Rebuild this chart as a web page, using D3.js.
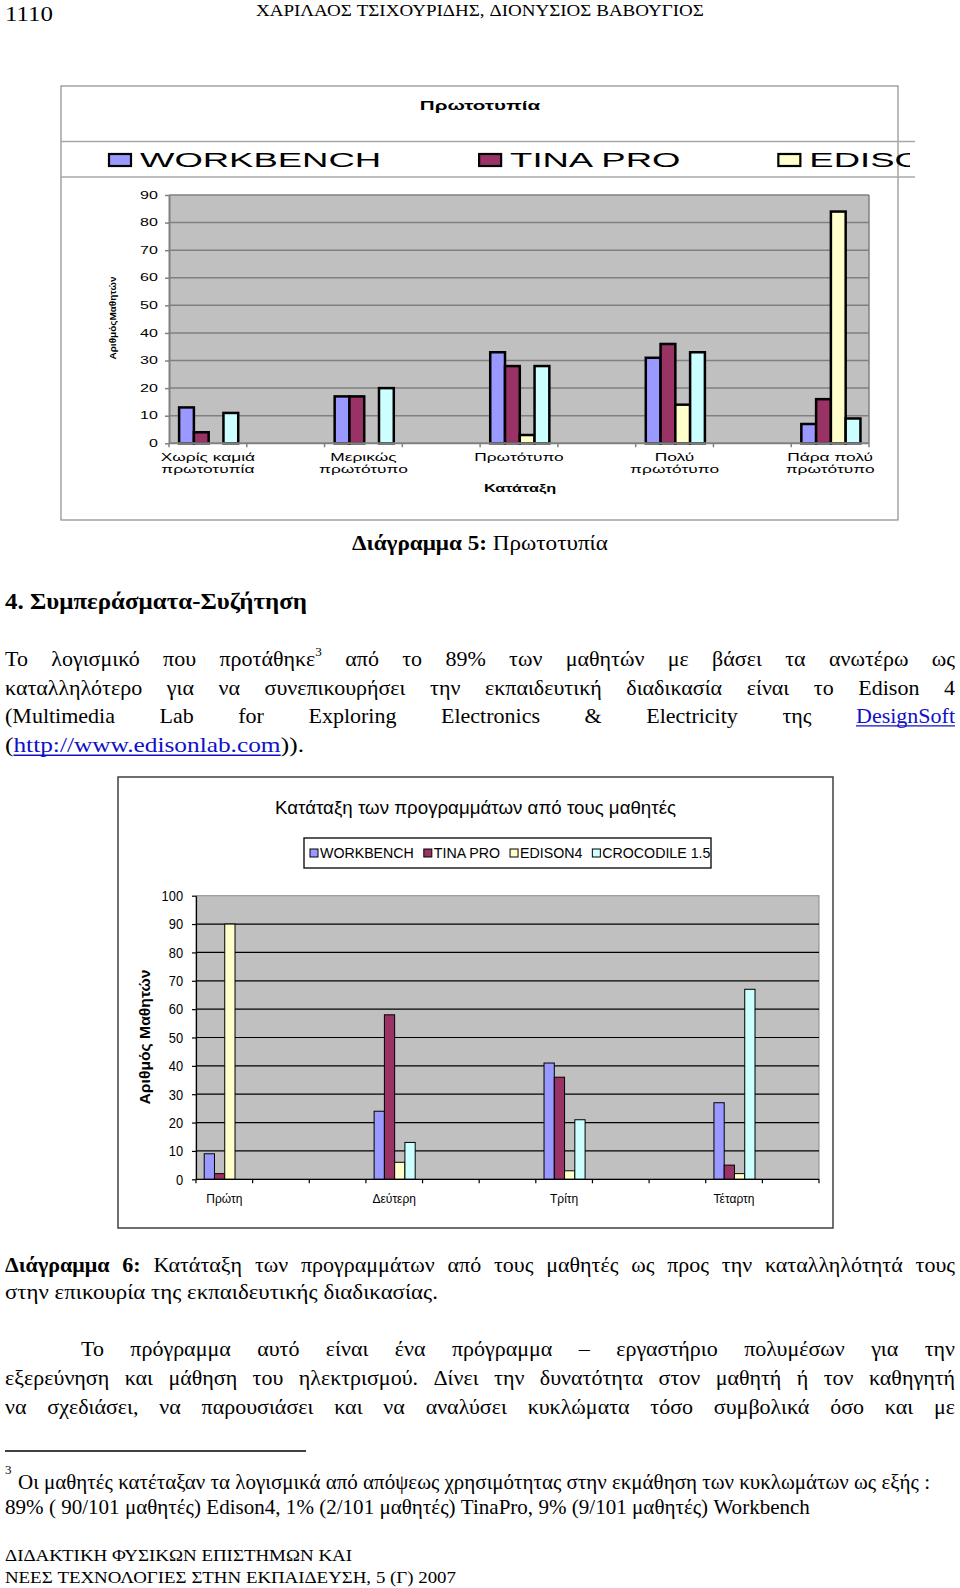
<!DOCTYPE html>
<html><head><meta charset="utf-8">
<script src="https://cdn.jsdelivr.net/npm/d3@7"></script>
<style>body{margin:0;background:#fff}svg{display:block}</style>
</head><body>
<svg id="page" width="960" height="1588"></svg>
<script>
// ---------- DATA ----------
const series = ["WORKBENCH", "TINA PRO", "EDISON4", "CROCODILE 1.5"];
const seriesColors = ["#9999ff", "#993366", "#ffffcc", "#ccffff"];

// Chart 1 (Πρωτοτυπία)
const c1Title = "Πρωτοτυπία";
const c1Categories = [["Χωρίς καμιά", "πρωτοτυπία"], ["Μερικώς", "πρωτότυπο"], ["Πρωτότυπο"], ["Πολύ", "πρωτότυπο"], ["Πάρα πολύ", "πρωτότυπο"]];
const c1Workbench = [13, 17, 33, 31, 7];
const c1Tina = [4, 17, 28, 36, 16];
const c1Edison = [0, 0, 3, 14, 84];
const c1Croc = [11, 20, 28, 33, 9];
const c1Ticks = [0, 10, 20, 30, 40, 50, 60, 70, 80, 90];
const c1XTitle = "Κατάταξη";
const c1YTitle = "ΑριθμόςΜαθητών";

// Chart 2 (Κατάταξη των προγραμμάτων)
const c2Title = "Κατάταξη των προγραμμάτων από τους μαθητές";
const c2Categories = ["Πρώτη", "Δεύτερη", "Τρίτη", "Τέταρτη"];
const c2Workbench = [9, 24, 41, 27];
const c2Tina = [2, 58, 36, 5];
const c2Edison = [90, 6, 3, 2];
const c2Croc = [0, 13, 21, 67];
const c2Ticks = [0, 10, 20, 30, 40, 50, 60, 70, 80, 90, 100];
const c2YTitle = "Αριθμός Μαθητών";

// ---------- SETUP ----------
const SERIF = "'Liberation Serif','Times New Roman',serif";
const SANS = "'Liberation Sans',Arial,Helvetica,sans-serif";
const svg = d3.select("#page");
svg.append("rect").attr("width", 960).attr("height", 1588).attr("fill", "#fff");

// ---------- TEXT HELPERS ----------
function parseWord(w) {
  return w.split(/(\*[^*]+\*|_[^_]+_|\^\d+)/).filter(s => s.length).map(p => {
    if (p[0] === "*") return { t: p.slice(1, -1), bold: true };
    if (p[0] === "_") return { t: p.slice(1, -1), link: true };
    if (p[0] === "^") return { t: p.slice(1), sup: true };
    return { t: p };
  });
}
function buildWord(g, w, size) {
  let x = 0;
  const wg = g.append("g");
  parseWord(w).forEach(s => {
    const t = wg.append("text").attr("x", x).attr("y", s.sup ? -size * 0.42 : 0)
      .style("font-family", SERIF).style("font-size", (s.sup ? size * 0.6 : size) + "px")
      .style("font-weight", s.bold ? "bold" : "normal")
      .attr("fill", s.link ? "#1010c8" : "#000").text(s.t);
    const ww = t.node().getComputedTextLength();
    if (s.link) wg.append("line").attr("x1", x).attr("x2", x + ww).attr("y1", size * 0.13).attr("y2", size * 0.13)
      .attr("stroke", "#1010c8").attr("stroke-width", 1.3);
    x += ww;
  });
  return { g: wg, w: x };
}
function textLine(str, x0, y, size, mode, x1) {
  const lg = svg.append("g").attr("transform", `translate(${x0},${y})`);
  const words = str.split(" ").map(w => buildWord(lg, w, size));
  if (mode === "justify") {
    const sum = d3.sum(words, d => d.w);
    const gap = (x1 - x0 - sum) / (words.length - 1);
    let x = 0;
    words.forEach(d => { d.g.attr("transform", `translate(${x},0)`); x += d.w + gap; });
  } else {
    const sp = size * 0.25;
    let x = 0;
    words.forEach(d => { d.g.attr("transform", `translate(${x},0)`); x += d.w + sp; });
    const total = x - sp;
    if (x1) lg.attr("transform", `translate(${x0},${y}) scale(${(x1 - x0) / total},1)`);
  }
}
function stext(parent, x, y, str, size, k, opts = {}) {
  return parent.append("text").attr("transform", `translate(${x},${y}) scale(${k},1)`)
    .attr("text-anchor", opts.anchor || "start").style("font-family", SANS)
    .style("font-size", size + "px").style("font-weight", opts.bold ? "bold" : "normal")
    .attr("fill", "#000").text(str);
}

// ---------- PAGE TEXT ----------
textLine("1110", 5, 21, 22, "fit", 53);
textLine("ΧΑΡΙΛΑΟΣ ΤΣΙΧΟΥΡΙΔΗΣ, ΔΙΟΝΥΣΙΟΣ ΒΑΒΟΥΓΙΟΣ", 256, 15.5, 17, "fit", 704);
textLine("*Διάγραμμα* *5:* Πρωτοτυπία", 352, 550, 22, "fit", 608);
textLine("*4.* *Συμπεράσματα-Συζήτηση*", 5, 608.5, 23, "fit", 307);
textLine("Το λογισμικό που προτάθηκε^3 από το 89% των μαθητών με βάσει τα ανωτέρω ως", 5, 665.5, 22, "justify", 955);
textLine("καταλληλότερο για να συνεπικουρήσει την εκπαιδευτική διαδικασία είναι το Edison 4", 5, 694.5, 22, "justify", 955);
textLine("(Multimedia Lab for Exploring Electronics & Electricity της _DesignSoft_", 5, 723, 22, "justify", 955);
textLine("(_http://www.edisonlab.com_)).", 5, 752.4, 22, "fit", 304);
textLine("*Διάγραμμα* *6:* Κατάταξη των προγραμμάτων από τους μαθητές ως προς την καταλληλότητά τους", 5, 1272, 22, "justify", 955);
textLine("στην επικουρία της εκπαιδευτικής διαδικασίας.", 5, 1299, 22, "fit", 438);
textLine("Το πρόγραμμα αυτό είναι ένα πρόγραμμα – εργαστήριο πολυμέσων για την", 81, 1356, 22, "justify", 955);
textLine("εξερεύνηση και μάθηση του ηλεκτρισμού. Δίνει την δυνατότητα στον μαθητή ή τον καθηγητή", 5, 1385, 22, "justify", 955);
textLine("να σχεδιάσει, να παρουσιάσει και να αναλύσει κυκλώματα τόσο συμβολικά όσο και με", 5, 1414, 22, "justify", 955);
svg.append("line").attr("x1", 5).attr("x2", 306).attr("y1", 1451).attr("y2", 1451).attr("stroke", "#000").attr("stroke-width", 1.5);
textLine("3", 5, 1474, 13);
textLine("Οι μαθητές κατέταξαν τα λογισμικά από απόψεως χρησιμότητας στην εκμάθηση των κυκλωμάτων ως εξής :", 18, 1488.5, 20, "fit", 930);
textLine("89% ( 90/101 μαθητές) Edison4, 1% (2/101 μαθητές) TinaPro, 9% (9/101 μαθητές) Workbench", 5, 1514, 20, "fit", 810);
textLine("ΔΙΔΑΚΤΙΚΗ ΦΥΣΙΚΩΝ ΕΠΙΣΤΗΜΩΝ ΚΑΙ", 5, 1560.5, 17, "fit", 352);
textLine("ΝΕΕΣ ΤΕΧΝΟΛΟΓΙΕΣ ΣΤΗΝ ΕΚΠΑΙΔΕΥΣΗ, 5 (Γ) 2007", 5, 1583, 17, "fit", 456);

// ---------- CHART 1 ----------
(function () {
  const values = [c1Workbench, c1Tina, c1Edison, c1Croc];
  const c1 = svg.append("g");
  c1.append("rect").attr("x", 61).attr("y", 86).attr("width", 837).attr("height", 434)
    .attr("fill", "#fff").attr("stroke", "#8c8c8c").attr("stroke-width", 1.2);
  stext(c1, 480, 109.5, c1Title, 12.5, 1.65, { anchor: "middle", bold: true });
  [141.5, 177].forEach(yy => c1.append("line").attr("x1", 61).attr("x2", 915).attr("y1", yy).attr("y2", yy)
    .attr("stroke", "#a8a8a8").attr("stroke-width", 1.5));
  svg.append("clipPath").attr("id", "leg1clip").append("rect").attr("x", 61).attr("y", 142).attr("width", 849).attr("height", 34);
  const lg = c1.append("g").attr("clip-path", "url(#leg1clip)");
  let lx = 109;
  series.forEach((s, i) => {
    lg.append("rect").attr("x", lx).attr("y", 154).attr("width", 22).attr("height", 12)
      .attr("fill", seriesColors[i]).attr("stroke", "#000").attr("stroke-width", 2.2);
    const t = stext(lg, lx + 31, 167.3, s, 20.5, 1.78);
    lx = lx + 31 + t.node().getComputedTextLength() * 1.78 + 98;
  });

  const y = d3.scaleLinear().domain([0, 90]).range([443.3, 195]);
  const x0 = d3.scaleBand().domain(d3.range(9)).range([169, 869]);
  const bw = x0.bandwidth();
  const xs = d3.scaleBand().domain(d3.range(4)).range([bw * 0.13, bw * 0.89]);

  c1.append("rect").attr("x", 169).attr("y", y(90)).attr("width", 700).attr("height", y(0) - y(90)).attr("fill", "#c0c0c0");
  c1.selectAll(".g1").data(c1Ticks.filter(v => v > 0)).join("line")
    .attr("x1", 169).attr("x2", 869).attr("y1", d => y(d)).attr("y2", d => y(d))
    .attr("stroke", "#808080").attr("stroke-width", 1.5);
  c1.append("line").attr("x1", 869).attr("x2", 869).attr("y1", y(90)).attr("y2", y(0)).attr("stroke", "#808080").attr("stroke-width", 1.5);

  c1Categories.forEach((cat, i) => {
    const slot = i * 2;
    values.forEach((arr, j) => {
      if (arr[i] <= 0) return;
      c1.append("rect").attr("x", x0(slot) + xs(j)).attr("y", y(arr[i]))
        .attr("width", xs.bandwidth()).attr("height", y(0) - y(arr[i]))
        .attr("fill", seriesColors[j]).attr("stroke", "#000").attr("stroke-width", 2.5);
    });
    cat.forEach((line, k) => stext(c1, x0(slot) + bw / 2, 460.7 + k * 12, line, 10.5, 1.65, { anchor: "middle" }));
  });

  const ya = c1.append("g").attr("transform", "translate(169,0)")
    .call(d3.axisLeft(y).tickValues(c1Ticks).tickSize(4).tickSizeOuter(0).tickPadding(3));
  ya.select(".domain").attr("stroke", "#808080").attr("stroke-width", 2);
  ya.selectAll(".tick line").attr("stroke", "#808080").attr("stroke-width", 1.5);
  ya.selectAll(".tick text").attr("transform", "scale(1.6,1)").style("font-family", SANS).style("font-size", "10px").attr("fill", "#000");

  const bounds = d3.range(9).map(i => x0(i)).concat([x0.range()[1]]);
  c1.append("line").attr("x1", 169).attr("x2", 869).attr("y1", y(0)).attr("y2", y(0)).attr("stroke", "#808080").attr("stroke-width", 2);
  c1.selectAll(".xt1").data(bounds).join("line").attr("x1", d => d).attr("x2", d => d)
    .attr("y1", y(0)).attr("y2", y(0) + 4).attr("stroke", "#808080").attr("stroke-width", 1.5);

  stext(c1, 520, 491.7, c1XTitle, 10.5, 1.55, { anchor: "middle", bold: true });
  c1.append("text").attr("transform", "translate(115.5,318) rotate(-90)").attr("text-anchor", "middle")
    .style("font-family", SANS).style("font-size", "9px").style("font-weight", "bold")
    .attr("textLength", 83).attr("lengthAdjust", "spacingAndGlyphs").text(c1YTitle);
})();

// ---------- CHART 2 ----------
(function () {
  const values = [c2Workbench, c2Tina, c2Edison, c2Croc];
  const c2 = svg.append("g");
  c2.append("rect").attr("x", 118).attr("y", 777).attr("width", 715).attr("height", 451)
    .attr("fill", "#fff").attr("stroke", "#404040").attr("stroke-width", 1.5);
  c2.append("text").attr("x", 275).attr("y", 814).style("font-family", SANS).style("font-size", "18px")
    .attr("textLength", 401).attr("lengthAdjust", "spacingAndGlyphs").text(c2Title);
  c2.append("rect").attr("x", 304).attr("y", 838).attr("width", 407).attr("height", 30)
    .attr("fill", "#fff").attr("stroke", "#000").attr("stroke-width", 1.3);
  let lx = 310;
  series.forEach((s, i) => {
    c2.append("rect").attr("x", lx).attr("y", 849).attr("width", 8).attr("height", 8)
      .attr("fill", seriesColors[i]).attr("stroke", "#000").attr("stroke-width", 1);
    const t = c2.append("text").attr("x", lx + 10).attr("y", 858).style("font-family", SANS)
      .style("font-size", "14.2px").text(s);
    lx = lx + 10 + t.node().getComputedTextLength() + 10;
  });

  const y = d3.scaleLinear().domain([0, 100]).range([1179.3, 895.7]);
  const x0 = d3.scaleBand().domain(d3.range(11)).range([196, 819]);
  const bw = x0.bandwidth();
  const xs = d3.scaleBand().domain(d3.range(4)).range([bw * 0.145, bw * 0.87]);

  c2.append("rect").attr("x", 196).attr("y", y(100)).attr("width", 623).attr("height", y(0) - y(100))
    .attr("fill", "#c0c0c0").attr("stroke", "#8a8a8a").attr("stroke-width", 1);
  c2.selectAll(".g2").data(c2Ticks.filter(v => v > 0 && v < 100)).join("line")
    .attr("x1", 196).attr("x2", 819).attr("y1", d => y(d)).attr("y2", d => y(d))
    .attr("stroke", "#000").attr("stroke-width", 1.2);

  c2Categories.forEach((cat, i) => {
    const slot = i * 3;
    values.forEach((arr, j) => {
      if (arr[i] <= 0) return;
      c2.append("rect").attr("x", x0(slot) + xs(j)).attr("y", y(arr[i]))
        .attr("width", xs.bandwidth()).attr("height", y(0) - y(arr[i]))
        .attr("fill", seriesColors[j]).attr("stroke", "#000").attr("stroke-width", 1);
    });
    c2.append("text").attr("x", x0(slot) + bw / 2).attr("y", 1203).attr("text-anchor", "middle")
      .style("font-family", SANS).style("font-size", "12px").text(cat);
  });

  const ya = c2.append("g").attr("transform", "translate(196,0)")
    .call(d3.axisLeft(y).tickValues(c2Ticks).tickSize(4).tickSizeOuter(0).tickPadding(11));
  ya.select(".domain").attr("stroke", "#000").attr("stroke-width", 1.2);
  ya.selectAll(".tick line").attr("stroke", "#000").attr("stroke-width", 1.2);
  ya.selectAll(".tick text").attr("transform", "scale(0.86,1)").style("font-family", SANS).style("font-size", "15px").attr("fill", "#000");

  const bounds = d3.range(11).map(i => x0(i)).concat([x0.range()[1]]);
  c2.append("line").attr("x1", 196).attr("x2", 819).attr("y1", y(0)).attr("y2", y(0)).attr("stroke", "#000").attr("stroke-width", 1.2);
  c2.selectAll(".xt2").data(bounds).join("line").attr("x1", d => d).attr("x2", d => d)
    .attr("y1", y(0)).attr("y2", y(0) + 4).attr("stroke", "#000").attr("stroke-width", 1.2);

  c2.append("text").attr("transform", "translate(150,1037) rotate(-90)").attr("text-anchor", "middle")
    .style("font-family", SANS).style("font-size", "14px").style("font-weight", "bold")
    .attr("textLength", 135).attr("lengthAdjust", "spacingAndGlyphs").text(c2YTitle);
})();
</script>
</body></html>
